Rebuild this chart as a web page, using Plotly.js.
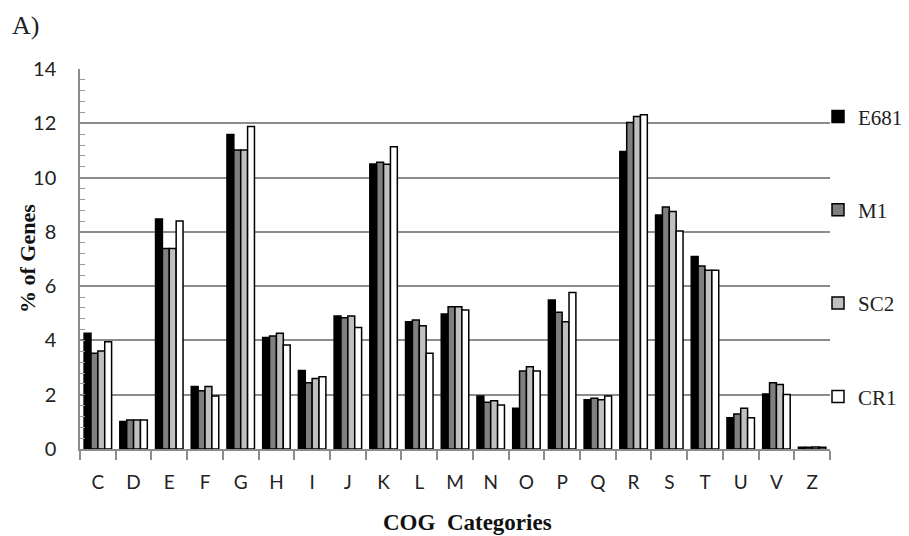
<!DOCTYPE html>
<html>
<head>
<meta charset="utf-8">
<script src="https://cdn.plot.ly/plotly-3.0.1.min.js"></script>
<style>html,body{margin:0;padding:0;background:#fff;}#chart{width:909px;height:536px;}</style>
</head>
<body>
<div id="chart"></div>
<script>
const categories = ["C","D","E","F","G","H","I","J","K","L","M","N","O","P","Q","R","S","T","U","V","Z"];
const seriesNames = ["E681","M1","SC2","CR1"];
const E681 = [4.26,1.01,8.47,2.30,11.59,4.11,2.89,4.90,10.50,4.69,4.97,1.95,1.50,5.49,1.81,10.96,8.62,7.09,1.15,2.03,0.06];
const M1   = [3.53,1.07,7.39,2.15,11.02,4.16,2.44,4.84,10.56,4.75,5.24,1.72,2.87,5.04,1.87,12.03,8.92,6.74,1.29,2.44,0.06];
const SC2  = [3.61,1.07,7.39,2.30,11.02,4.26,2.60,4.90,10.49,4.54,5.24,1.78,3.03,4.69,1.81,12.25,8.75,6.59,1.50,2.38,0.07];
const CR1  = [3.95,1.07,8.40,1.95,11.88,3.83,2.66,4.48,11.14,3.53,5.12,1.62,2.87,5.77,1.95,12.31,8.03,6.59,1.15,2.01,0.06];
const yTicks = [0,2,4,6,8,10,12,14];

const values = [E681, M1, SC2, CR1];
const fills = ["#000000","#7f7f7f","#c0c0c0","#ffffff"];

const traces = seriesNames.map((name, i) => ({
  type: "bar",
  name: name,
  x: categories,
  y: values[i],
  legendgroup: name,
  marker: {color: fills[i], line: {color: "#000000", width: 1.5}},
  hoverinfo: "x+y+name"
}));

const serif = "'Liberation Serif', 'DejaVu Serif', serif";
const sans = "Lato, 'Open Sans', sans-serif";

const layout = {
  width: 909, height: 536,
  margin: {l: 80, r: 79, t: 69, b: 87, autoexpand: false},
  paper_bgcolor: "#ffffff", plot_bgcolor: "#ffffff",
  barmode: "group",
  bargap: 0.23,
  bargroupgap: 0,
  showlegend: true,
  legend: {
    x: 0.984, y: 0.928, xanchor: "left", yanchor: "top",
    font: {family: serif, size: 21, color: "#222"},
    traceorder: "grouped",
    tracegroupgap: 63,
    itemwidth: 30,
    bgcolor: "rgba(0,0,0,0)"
  },
  xaxis: {
    type: "category",
    showline: true, linecolor: "#8c8c8c", linewidth: 1.5,
    ticks: "outside", tickson: "boundaries", ticklen: 9, tickcolor: "#8c8c8c", tickwidth: 1.5,
    tickfont: {family: sans, size: 19, color: "#222"},
    ticklabelstandoff: 15,
    showgrid: false, zeroline: false
  },
  yaxis: {
    range: [0, 14],
    tickvals: yTicks,
    ticktext: yTicks.map(String),
    showline: true, linecolor: "#8c8c8c", linewidth: 1.5,
    showgrid: true, gridcolor: "#8c8c8c", gridwidth: 1.5,
    ticks: "inside", ticklen: 5, tickcolor: "#8c8c8c",
    minor: {dtick: 0.4, ticks: "inside", ticklen: 5, tickcolor: "#9a9a9a", showgrid: false},
    tickfont: {family: sans, size: 20, color: "#222"},
    ticklabelstandoff: 18,
    zeroline: false
  },
  annotations: [
    {text: "A)", xref: "paper", yref: "paper", x: 0, y: 1, xshift: -70, yshift: 44,
     xanchor: "left", yanchor: "middle", showarrow: false,
     font: {family: serif, size: 26, color: "#222"}},
    {text: "<b>% of Genes</b>", xref: "paper", yref: "paper", x: 0, y: 0.5, xshift: -53,
     xanchor: "center", yanchor: "middle", textangle: -90, showarrow: false,
     font: {family: serif, size: 22, color: "#111"}},
    {text: "<b>COG  Categories</b>", xref: "paper", yref: "paper", x: 0.517, y: 0, yshift: -73,
     xanchor: "center", yanchor: "middle", showarrow: false,
     font: {family: serif, size: 23, color: "#111"}}
  ]
};

Plotly.newPlot("chart", traces, layout, {displayModeBar: false, responsive: false});
</script>
</body>
</html>
